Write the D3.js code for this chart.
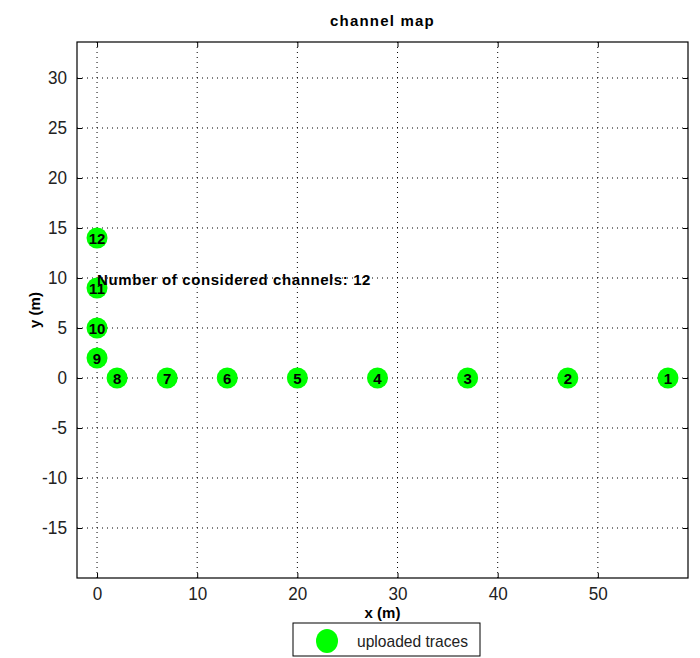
<!DOCTYPE html>
<html>
<head>
<meta charset="utf-8">
<script src="https://cdn.jsdelivr.net/npm/d3@7"></script>
<style>
  body { margin: 0; background: #fff; }
  text { font-family: "Liberation Sans", Arial, sans-serif; }
</style>
</head>
<body>
<div id="chart"></div>
<script>
// Channel positions (m)
var channelIds = [1, 2, 3, 4, 5, 6, 7, 8, 9, 10, 11, 12];
var channelX = [57, 47, 37, 28, 20, 13, 7, 2, 0, 0, 0, 0];
var channelY = [0, 0, 0, 0, 0, 0, 0, 0, 2, 5, 9, 14];
var xTicks = [0, 10, 20, 30, 40, 50];
var yTicks = [-15, -10, -5, 0, 5, 10, 15, 20, 25, 30];
var noteText = 'Number of considered channels: 12';
var notePos = [0, 10];

var W = 700, H = 658;
var margin = { top: 42, right: 12, bottom: 80, left: 77 },
  width = W - margin.left - margin.right,
  height = H - margin.top - margin.bottom;

var svg = d3.select('#chart').append('svg')
  .attr('width', W).attr('height', H);

var g = svg.append('g')
  .attr('transform', 'translate(' + margin.left + ',' + margin.top + ')');

var x = d3.scaleLinear().domain([-2, 59]).range([0, width]);
var y = d3.scaleLinear().domain([-20, 33.6]).range([height, 0]);

// narrow look for the tick labels
function narrowWidth(s) {
  var w = 0;
  for (var i = 0; i < s.length; i++) w += s[i] === '-' || s[i] === '\u2212' ? 6 : 9.5;
  return w;
}

// Grid lines (dotted)
g.append('g').selectAll('line').data(xTicks).enter().append('line')
  .attr('x1', function (d) { return x(d); })
  .attr('x2', function (d) { return x(d); })
  .attr('y1', 0).attr('y2', height)
  .attr('stroke', '#000').attr('stroke-width', 1)
  .attr('stroke-dasharray', '1,4');
g.append('g').selectAll('line').data(yTicks).enter().append('line')
  .attr('y1', function (d) { return y(d); })
  .attr('y2', function (d) { return y(d); })
  .attr('x1', 0).attr('x2', width)
  .attr('stroke', '#000').attr('stroke-width', 1)
  .attr('stroke-dasharray', '1,4');

// Axes with inward ticks
function styleAxis(sel) {
  sel.select('.domain').remove();
  sel.selectAll('text')
    .style('font-size', '18px')
    .attr('fill', '#222')
    .attr('lengthAdjust', 'spacingAndGlyphs')
    .attr('textLength', function () { return narrowWidth(this.textContent); });
  sel.selectAll('line').attr('stroke', '#000');
}
g.append('g')
  .attr('transform', 'translate(0,' + height + ')')
  .call(d3.axisBottom(x).tickValues(xTicks).tickSizeInner(-5).tickPadding(9)
    .tickFormat(d3.format('d')))
  .call(styleAxis);
g.append('g')
  .call(d3.axisTop(x).tickValues(xTicks).tickSizeInner(-5).tickFormat(''))
  .call(styleAxis);
g.append('g')
  .call(d3.axisLeft(y).tickValues(yTicks).tickSizeInner(-5).tickPadding(10)
    .tickFormat(function (d) { return String(d); }))
  .call(styleAxis);
g.append('g')
  .attr('transform', 'translate(' + width + ',0)')
  .call(d3.axisRight(y).tickValues(yTicks).tickSizeInner(-5).tickFormat(''))
  .call(styleAxis);

// Box
g.append('rect')
  .attr('width', width).attr('height', height)
  .attr('fill', 'none').attr('stroke', '#000').attr('stroke-width', 1.2);

// Channel markers
var channels = channelIds.map(function (id, i) {
  return { id: id, x: channelX[i], y: channelY[i] };
});
var node = g.append('g').selectAll('g').data(channels).enter().append('g')
  .attr('transform', function (d) {
    return 'translate(' + x(d.x) + ',' + y(d.y) + ')';
  });
node.append('circle').attr('r', 10.5).attr('fill', '#00ff00');
node.append('text')
  .attr('text-anchor', 'middle')
  .attr('dominant-baseline', 'central')
  .style('font-size', '15px').style('font-weight', 'bold')
  .text(function (d) { return d.id; });

// Annotation
g.append('text')
  .attr('x', x(notePos[0])).attr('y', y(notePos[1]) + 1)
  .attr('dominant-baseline', 'central')
  .style('font-size', '15px').style('font-weight', 'bold')
  .style('letter-spacing', '0.6px')
  .text(noteText);

// Title and axis labels
svg.append('text')
  .attr('x', margin.left + width / 2).attr('y', 26)
  .attr('text-anchor', 'middle')
  .style('font-size', '15px').style('font-weight', 'bold')
  .style('letter-spacing', '1.2px')
  .text('channel map');
svg.append('text')
  .attr('x', margin.left + width / 2).attr('y', 618)
  .attr('text-anchor', 'middle')
  .style('font-size', '15px').style('font-weight', 'bold')
  .text('x (m)');
svg.append('text')
  .attr('transform', 'translate(40,' + (margin.top + height / 2) + ') rotate(-90)')
  .attr('text-anchor', 'middle')
  .style('font-size', '15px').style('font-weight', 'bold')
  .text('y (m)');

// Legend
var legend = svg.append('g').attr('transform', 'translate(293,623)');
legend.append('rect')
  .attr('width', 187).attr('height', 33)
  .attr('fill', '#fff').attr('stroke', '#000');
legend.append('ellipse')
  .attr('cx', 34).attr('cy', 18).attr('rx', 11).attr('ry', 12)
  .attr('fill', '#00ff00');
legend.append('text')
  .attr('x', 64).attr('y', 18)
  .attr('dominant-baseline', 'central')
  .style('font-size', '17px')
  .attr('fill', '#222')
  .attr('lengthAdjust', 'spacingAndGlyphs')
  .attr('textLength', 111)
  .text('uploaded traces');
</script>
</body>
</html>
